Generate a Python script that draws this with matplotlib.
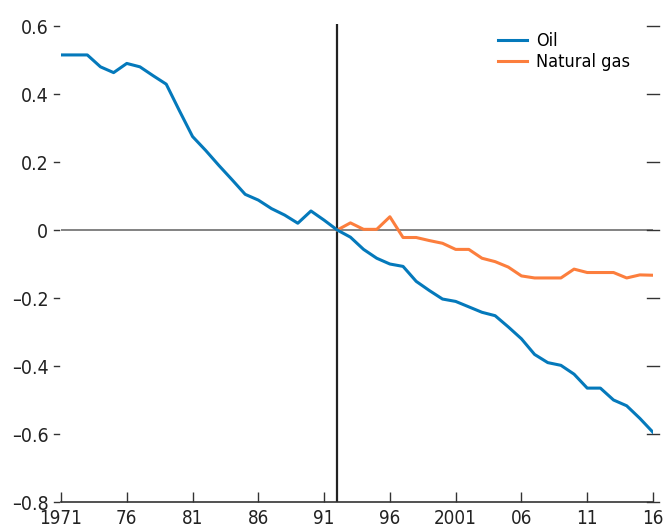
import matplotlib
matplotlib.use('Agg')
from matplotlib import pyplot as plt

years_oil = list(range(1971, 2017))
oil = [0.515, 0.515, 0.515, 0.48, 0.463, 0.49, 0.48, 0.454, 0.429, 0.351,
       0.275, 0.234, 0.19, 0.148, 0.105, 0.088, 0.063, 0.044, 0.02, 0.056,
       0.029, 0.0, -0.021, -0.057, -0.083, -0.1, -0.107, -0.151, -0.178, -0.203,
       -0.21, -0.226, -0.242, -0.252, -0.285, -0.32, -0.366, -0.39, -0.398, -0.424,
       -0.465, -0.465, -0.5, -0.517, -0.554, -0.595]

years_gas = list(range(1992, 2017))
gas = [0.0, 0.021, 0.002, 0.002, 0.039, -0.022, -0.022, -0.031, -0.039, -0.057,
       -0.057, -0.083, -0.093, -0.109, -0.135, -0.141, -0.141, -0.141, -0.115, -0.125,
       -0.125, -0.125, -0.141, -0.132, -0.133]

xticks = [1971, 1976, 1981, 1986, 1991, 1996, 2001, 2006, 2011, 2016]
xlabels = ['1971', '76', '81', '86', '91', '96', '2001', '06', '11', '16']
yticks = [-0.8, -0.6, -0.4, -0.2, 0, 0.2, 0.4, 0.6]
ylabels = ['\u20130.8', '\u20130.6', '\u20130.4', '\u20130.2', '0', '0.2', '0.4', '0.6']

plt.rcParams['font.family'] = ['DejaVu Sans']
plt.rcParams['font.stretch'] = 'condensed'

fig = plt.figure(figsize=(6.64, 5.29), dpi=100)
ax = fig.add_axes([61/664, 1 - 502/529, (653 - 61)/664, (502 - 24)/529])

ax.axhline(0, color='#6d6d6d', lw=1.2, zorder=1)
ax.axvline(1992, color='#222222', lw=1.6, zorder=1)
ax.plot(years_oil, oil, color='#0479bb', lw=2.2, label='Oil', zorder=3)
ax.plot(years_gas, gas, color='#fc7e3d', lw=2.2, label='Natural gas', zorder=2)

ax.set_xlim(1971, 2016)
ax.set_ylim(-0.8, 0.606)
ax.set_xticks(xticks)
ax.set_xticklabels(xlabels)
ax.set_yticks(yticks)
ax.set_yticklabels(ylabels)

for s in ['top', 'left', 'right']:
    ax.spines[s].set_visible(False)
ax.spines['bottom'].set_color('#333333')
ax.spines['bottom'].set_linewidth(1.2)

ax.tick_params(axis='x', direction='in', length=7, width=1, colors='#333333',
               labelsize=13.5, labelcolor='#222222', pad=5)
ax.tick_params(axis='y', length=0, labelsize=14, labelcolor='#222222', pad=9)
# short outward ticks on the left, inward on the right
for y in yticks:
    ax.plot([-0.012, -0.003], [y, y], transform=ax.get_yaxis_transform(),
            color='#333333', lw=1, clip_on=False)
    ax.plot([0.99, 1.01], [y, y], transform=ax.get_yaxis_transform(),
            color='#333333', lw=1, clip_on=False)

leg = ax.legend(loc='upper right', bbox_to_anchor=(0.98, 1.005), frameon=False,
                fontsize=13, handlelength=1.6, handletextpad=0.5,
                labelspacing=0.15, borderaxespad=0.2)

fig.savefig('out.png', dpi=100)
